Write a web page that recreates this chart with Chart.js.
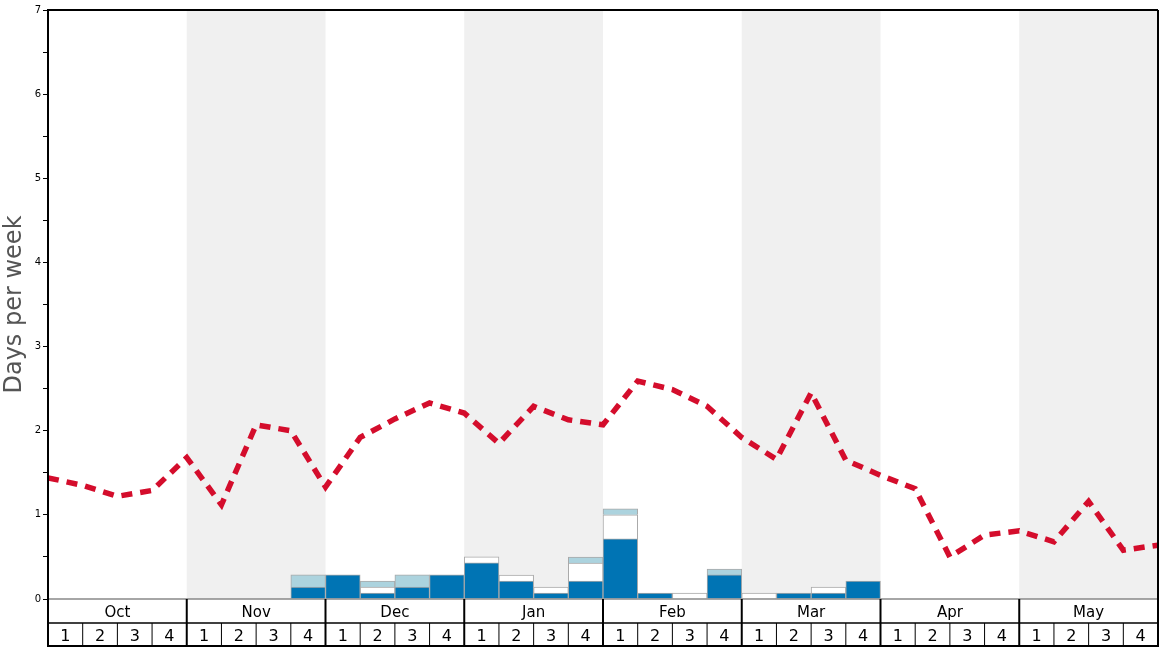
<!DOCTYPE html>
<html>
<head>
<meta charset="utf-8">
<script src="https://cdn.jsdelivr.net/npm/chart.js@4/dist/chart.umd.min.js"></script>
<style>
  html, body { margin: 0; padding: 0; background: #fff; }
  #wrap { width: 1168px; height: 648px; }
</style>
</head>
<body>
<div id="wrap"><canvas id="chart" width="1168" height="648"></canvas></div>
<script>
// months and week numbers along the bottom
const months = ['Oct', 'Nov', 'Dec', 'Jan', 'Feb', 'Mar', 'Apr', 'May'];
const weekNums = ['1', '2', '3', '4'];
const weekLabels = months.flatMap(m => weekNums.map(w => m + ' ' + w));

// stacked bars, days per week (one per week)
const darkDays = [null, null, null, null, null, null, null, 0.143,
  0.286, 0.071, 0.143, 0.286, 0.429, 0.214, 0.071, 0.214,
  0.714, 0.071, null, 0.286, null, 0.071, 0.071, 0.214,
  null, null, null, null, null, null, null, null];
const whiteDays = [null, null, null, null, null, null, null, null,
  null, 0.071, null, null, 0.071, 0.071, 0.071, 0.214,
  0.286, null, 0.071, null, 0.071, null, 0.071, null,
  null, null, null, null, null, null, null, null];
const lightDays = [null, null, null, null, null, null, null, 0.143,
  null, 0.071, 0.143, null, null, null, null, 0.071,
  0.071, null, null, 0.071, null, null, null, null,
  null, null, null, null, null, null, null, null];

// dashed line, value at each week boundary (33 points)
const avgLine = [1.44, 1.35, 1.22, 1.29, 1.68, 1.12, 2.07, 2.0,
  1.33, 1.92, 2.14, 2.33, 2.21, 1.85, 2.29, 2.13,
  2.07, 2.59, 2.49, 2.29, 1.92, 1.66, 2.45, 1.65,
  1.47, 1.31, 0.5, 0.76, 0.81, 0.68, 1.16, 0.58, 0.64];

const FONT = 'DejaVu Sans';

// gray bands behind every other month + frame and bottom rows
const monthPlugin = {
  id: 'monthPlugin',
  beforeDatasetsDraw(chart) {
    const { ctx, chartArea: a } = chart;
    const xl = chart.scales.xl;
    ctx.save();
    ctx.fillStyle = '#f0f0f0';
    months.forEach((m, i) => {
      if (i % 2 === 1) {
        const x0 = xl.getPixelForValue(i * 4);
        const x1 = xl.getPixelForValue(i * 4 + 4);
        ctx.fillRect(x0, a.top, x1 - x0, a.bottom - a.top);
      }
    });
    ctx.restore();
  },
  afterDraw(chart) {
    const { ctx, chartArea: a } = chart;
    const xl = chart.scales.xl;
    const rowH = 24;
    const y0 = a.bottom, y1 = a.bottom + rowH, y2 = a.bottom + rowH * 2;
    ctx.save();
    // zero line
    ctx.strokeStyle = '#888';
    ctx.lineWidth = 1.5;
    ctx.beginPath(); ctx.moveTo(a.left, y0); ctx.lineTo(a.right, y0); ctx.stroke();

    ctx.strokeStyle = '#000';
    ctx.lineWidth = 1.5;
    ctx.beginPath(); ctx.moveTo(a.left, y1); ctx.lineTo(a.right, y1); ctx.stroke();
    ctx.lineWidth = 2;
    ctx.beginPath(); ctx.moveTo(a.left, y2 - 1); ctx.lineTo(a.right, y2 - 1); ctx.stroke();
    // frame
    ctx.beginPath(); ctx.moveTo(a.left, a.top); ctx.lineTo(a.right, a.top); ctx.stroke();
    ctx.beginPath(); ctx.moveTo(a.right, a.top); ctx.lineTo(a.right, y2); ctx.stroke();
    ctx.beginPath(); ctx.moveTo(a.left, a.top); ctx.lineTo(a.left, y2); ctx.stroke();

    ctx.fillStyle = '#000';
    ctx.textAlign = 'center';
    ctx.textBaseline = 'middle';
    for (let k = 0; k <= 32; k++) {
      const x = xl.getPixelForValue(k);
      if (k % 4 === 0) {
        ctx.lineWidth = 2;
        ctx.beginPath(); ctx.moveTo(x, y0); ctx.lineTo(x, y2); ctx.stroke();
      } else {
        ctx.lineWidth = 1;
        ctx.beginPath(); ctx.moveTo(x, y1); ctx.lineTo(x, y2); ctx.stroke();
      }
    }
    ctx.font = '15px "' + FONT + '"';
    months.forEach((m, i) => {
      const xc = xl.getPixelForValue(i * 4 + 2);
      ctx.fillText(m, xc, (y0 + y1) / 2 + 2);
    });
    ctx.font = '16px "' + FONT + '"';
    for (let k = 0; k < 32; k++) {
      const xc = xl.getPixelForValue(k + 0.5);
      ctx.fillText(weekNums[k % 4], xc, (y1 + y2) / 2 + 2);
    }
    ctx.restore();
  }
};

const barStyle = {
  borderColor: '#a9a9a9', borderWidth: 1, stack: 's', order: 2, xAxisID: 'x',
  grouped: false, barPercentage: 1, categoryPercentage: 1
};

new Chart(document.getElementById('chart').getContext('2d'), {
  type: 'bar',
  data: {
    labels: weekLabels,
    datasets: [
      { label: 'dark', data: darkDays, backgroundColor: '#0074b4', ...barStyle },
      { label: 'white', data: whiteDays, backgroundColor: '#ffffff', ...barStyle },
      { label: 'light', data: lightDays, backgroundColor: '#acd3de', ...barStyle },
      {
        type: 'line',
        label: 'line',
        data: avgLine.map((v, k) => ({ x: k, y: v })),
        xAxisID: 'xl',
        borderColor: '#d40d2c',
        borderWidth: 5.5,
        borderDash: [11, 8],
        pointRadius: 0,
        tension: 0,
        fill: false,
        order: 1
      }
    ]
  },
  options: {
    responsive: false,
    animation: false,
    layout: { padding: { top: 10, right: 10, bottom: 49, left: 0 } },
    plugins: { legend: { display: false }, tooltip: { enabled: false } },
    scales: {
      x: { type: 'category', stacked: true, display: false, offset: true },
      xl: { type: 'linear', min: 0, max: 32, display: false, offset: false, grid: { offset: false } },
      y: {
        stacked: true,
        min: 0,
        max: 7,
        afterFit: s => { s.width = 48; },
        border: { display: true, color: '#000', width: 2 },
        grid: { drawOnChartArea: false, color: '#000', tickLength: 5, lineWidth: 1 },
        ticks: {
          stepSize: 0.5,
          padding: 2,
          color: '#000',
          font: { family: FONT, size: 10 },
          callback: v => Number.isInteger(v) ? String(v) : ''
        },
        title: {
          display: true,
          text: 'Days per week',
          color: '#555',
          padding: 0,
          font: { family: FONT, size: 24 }
        }
      }
    }
  },
  plugins: [monthPlugin]
});
</script>
</body>
</html>
